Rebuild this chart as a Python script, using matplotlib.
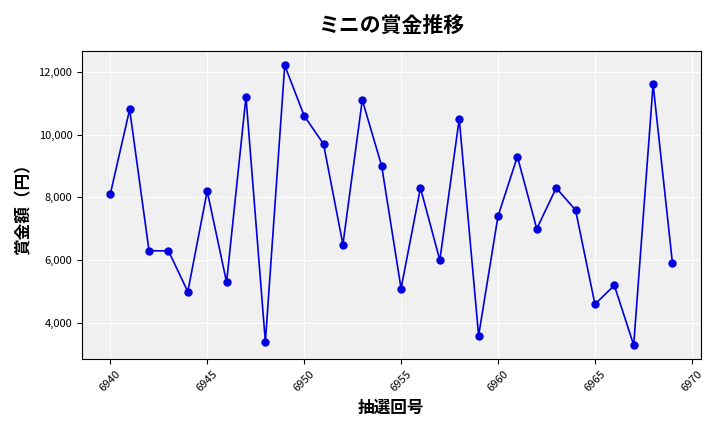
import matplotlib
matplotlib.use("Agg")
import matplotlib.pyplot as plt
from matplotlib.ticker import FuncFormatter

plt.rcParams['font.family'] = ['Noto Sans CJK JP', 'DejaVu Sans']

draws = list(range(6940, 6970))
prizes = [8100, 10800, 6300, 6300, 5000, 8200, 5300, 11200, 3400, 12200,
          10600, 9700, 6500, 11100, 9000, 5100, 8300, 6000, 10500, 3600,
          7400, 9300, 7000, 8300, 7600, 4600, 5200, 3300, 11600, 5900]

fig, ax = plt.subplots(figsize=(7.2, 4.32), dpi=100)
ax.set_facecolor('#f0f0f0')
ax.grid(True, color='white', linewidth=0.8)
ax.set_axisbelow(True)
ax.plot(draws, prizes, color='#0000dd', marker='o', markersize=5, linewidth=1.2)
ax.set_title('ミニの賞金推移', fontsize=15, fontweight='bold', pad=14)
ax.set_xlabel('抽選回号', fontsize=12, fontweight='bold')
ax.set_ylabel('賞金額（円）', fontsize=12, fontweight='bold')
ax.set_xticks(range(6940, 6971, 5))
ax.tick_params(axis='x', labelrotation=45, labelsize=8)
ax.tick_params(axis='y', labelsize=8)
ax.yaxis.set_major_formatter(FuncFormatter(lambda v, p: f'{int(v):,}'))
fig.tight_layout()
fig.savefig('out.png')
